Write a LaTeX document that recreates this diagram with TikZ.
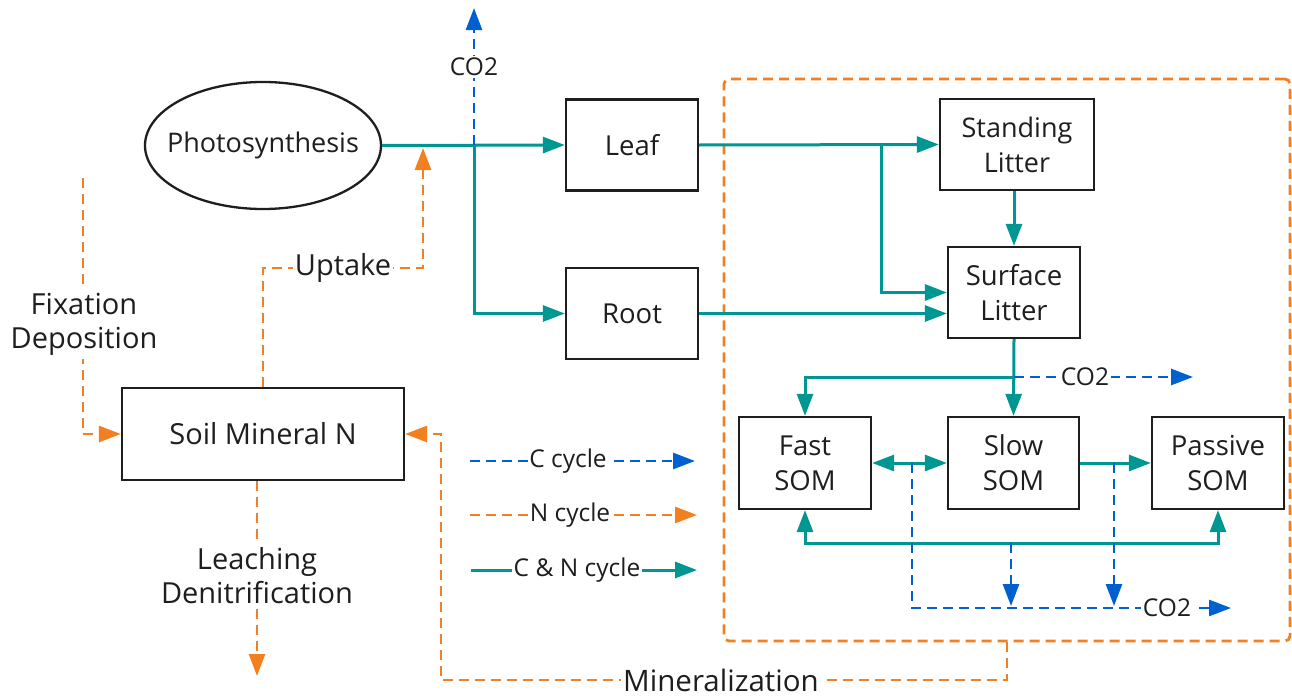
\documentclass[tikz,border=0pt]{standalone}
\usepackage{fontspec}
\setmainfont{Open Sans}
\usetikzlibrary{arrows.meta,shapes.geometric}
\definecolor{teal1}{RGB}{0,150,145}
\definecolor{blue1}{RGB}{0,96,208}
\definecolor{orange1}{RGB}{242,128,32}
\definecolor{ink}{RGB}{30,30,30}
\tikzset{
  box/.style={draw=ink,line width=2.3pt,minimum width=132pt,minimum height=91pt,inner sep=0pt,align=center,text=ink,font=\fontsize{27.5}{35}\selectfont},
  tip/.style={-{Triangle[length=22pt,width=16pt]}},
  dtip/.style={{Triangle[length=22pt,width=16pt]}-{Triangle[length=22pt,width=16pt]}},
  cn/.style={draw=teal1,line width=3pt,tip,color=teal1},
  cd/.style={draw=blue1,line width=2.8pt,dash pattern=on 10pt off 6pt,tip,color=blue1},
  nd/.style={draw=orange1,line width=2.8pt,dash pattern=on 10pt off 6pt,tip,color=orange1},
  lbl/.style={fill=white,inner sep=2pt,text=ink,font=\fontsize{29}{34}\selectfont,align=center},
  slbl/.style={fill=white,inner sep=1.5pt,text=ink,font=\fontsize{24.5}{28}\selectfont},
}
\begin{document}
\begin{tikzpicture}[x=1pt,y=-1pt]
\useasboundingbox (0,0) rectangle (1292,696);
% pool
\node[draw=orange1,line width=2.8pt,dash pattern=on 10pt off 6pt,rounded corners=5pt,minimum width=566pt,minimum height=562pt,inner sep=0pt] (pool) at (1007,360) {};
% nodes
\node[ellipse,draw=ink,line width=2.3pt,minimum width=236pt,minimum height=127pt,inner sep=0pt,
  label={[text=ink,font=\fontsize{27}{34}\selectfont]center:Photosynthesis}] (photo) at (263,145.5) {};
\node[box] (leaf) at (632,145) {Leaf};
\node[box] (root) at (632,313.5) {Root};
\node[box,minimum width=154pt,font=\fontsize{27}{35}\selectfont] (stand) at (1017,144.5) {Standing\\Litter};
\node[box] (surf) at (1014,292.5) {Surface\\Litter};
\node[box,minimum height=92pt] (fast) at (805,463) {Fast\\SOM};
\node[box,minimum width=131pt,minimum height=92pt] (slow) at (1013.5,463) {Slow\\SOM};
\node[box,minimum height=92pt] (passive) at (1218,463) {Passive\\SOM};
\node[box,minimum width=282pt,minimum height=92pt,font=\fontsize{29}{35}\selectfont] (soil) at (263,434) {Soil Mineral N};
% junctions
\coordinate (j1) at (474,145);
\coordinate (co2a) at (474,8);
\coordinate (j2) at (881,145);
\coordinate (j3) at (1014,377);
\coordinate (co2b) at (1193,377);
\coordinate (j4) at (912,463);
\coordinate (j4b) at (912,608);
\coordinate (co2c) at (1231,608);
\coordinate (j5) at (1011,543);
\coordinate (j5b) at (1011,606);
\coordinate (j6) at (1114,463);
\coordinate (j6b) at (1114,606);
\coordinate (fixtop) at (83,178);
\coordinate (upA) at (263,268);
\coordinate (upB) at (423,268);
\coordinate (upC) at (423,148);
\coordinate (leachend) at (257,676);
\coordinate (minA) at (1007,680);
\coordinate (minB) at (441,680);
\coordinate (minC) at (441,434);
% C&N flows
\draw[cn] (photo.east) -- (leaf.west);
\draw[cn] (j1) |- (root.west);
\draw[cn] (leaf.east) -- (stand.west);
\draw[cn] (j2) |- (surf.west);
\draw[cn] (root.east) -- (root.east -| surf.west);
\draw[cn] (surf.north |- stand.south) -- (surf.north);
\draw[cn] (surf.south) -- (slow.north);
\draw[cn] (j3) -| (fast.north);
\draw[cn,dtip] (fast.east) -- (slow.west);
\draw[cn] (slow.east) -- (passive.west);
\draw[cn,dtip] (fast.south) |- (j5) -| (passive.south);
% C flows
\draw[cd] (j1) -- (co2a);
\node[slbl] (lco2a) at (474,67) {CO2};
\draw[cd] (j3) -- (co2b);
\node[slbl] (lco2b) at (1085,377) {CO2};
\draw[cd] (j4) -- (j4b) -- (co2c);
\node[slbl] (lco2c) at (1167,608) {CO2};
\draw[cd] (j5) -- (j5b);
\draw[cd] (j6) -- (j6b);
% N flows
\draw[nd] (soil.north) -- (upA) -- (upB) -- (upC);
\node[lbl] (lup) at (343,268) {Uptake};
\draw[nd] (fixtop) |- (soil.west);
\node[lbl,inner sep=4pt] (lfix) at (84,324) {Fixation\\Deposition};
\draw[nd] (soil.south -| leachend) -- (leachend);
\node[lbl,inner sep=4pt] (lleach) at (257,576) {Leaching\\Denitrification};
\draw[nd] (pool.south) -- (minA) -- (minB) -- (minC) -- (soil.east);
\node[lbl,font=\fontsize{29.5}{34}\selectfont] (lmin) at (721,680) {Mineralization};
% legend
\coordinate (lg1a) at (470,461); \coordinate (lg1b) at (695,461);
\coordinate (lg2a) at (470,515); \coordinate (lg2b) at (697,515);
\coordinate (lg3a) at (471,570); \coordinate (lg3b) at (697,570);
\draw[cd] (lg1a) -- (lg1b);
\node[slbl] (leg1) at (568,461) {C cycle};
\draw[nd] (lg2a) -- (lg2b);
\node[slbl] (leg2) at (570,515) {N cycle};
\draw[cn] (lg3a) -- (lg3b);
\node[slbl] (leg3) at (577,570) {C \& N cycle};
\end{tikzpicture}
\end{document}
